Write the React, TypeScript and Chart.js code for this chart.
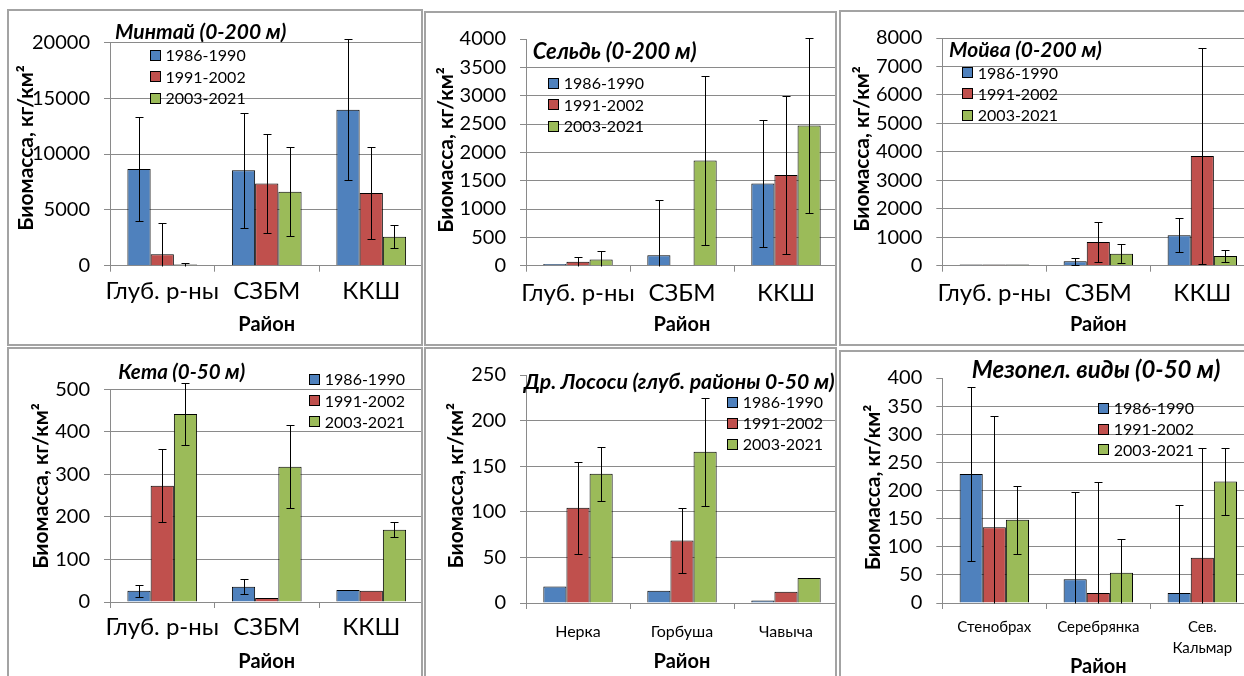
import React, { useEffect, useRef } from 'react';
import { Chart, registerables } from 'chart.js';

Chart.register(...registerables);

// ---------- DATA ----------
const periods = ['1986-1990', '1991-2002', '2003-2021'];
const areas = ['Глуб. р-ны', 'СЗБМ', 'ККШ'];
const salmonSpecies = ['Нерка', 'Горбуша', 'Чавыча'];
const mesoSpecies: (string | string[])[] = ['Стенобрах', 'Серебрянка', ['Сев.', 'Кальмар']];
const periodColors = ['#4F81BD', '#C0504D', '#9BBB59'];

// Минтай (0-200 м): rows = periods, columns = areas
const pollockMeans = [[8660, 8540, 13970], [1020, 7370, 6510], [100, 6630, 2600]];
const pollockErrors = [[4620, 5150, 6300], [2840, 4460, 4100], [140, 3970, 1060]];

// Сельдь (0-200 м)
const herringMeans = [[30, 186, 1449], [70, 10, 1600], [110, 1855, 2475]];
const herringErrors = [[0, 968, 1120], [92, 0, 1400], [157, 1490, 1540]];

// Мойва (0-200 м)
const capelinMeans = [[40, 160, 1074], [40, 834, 3851], [40, 423, 343]];
const capelinErrors = [[0, 120, 600], [0, 710, 3790], [0, 330, 205]];

// Кета (0-50 м)
const chumMeans = [[26.6, 36, 28], [273.5, 9.4, 26.6], [442, 318, 170]];
const chumErrors = [[14, 18, 0], [85, 0, 0], [73, 97, 18]];

// Др. лососи (глуб. районы 0-50 м)
const salmonMeans = [[18.1, 13.5, 2.8], [104.4, 68.5, 12.4], [141.7, 165.8, 27.3]];
const salmonErrors = [[0, 0, 0], [50.6, 36, 0], [29.6, 59, 0]];

// Мезопел. виды (0-50 м)
const mesoMeans = [[229.5, 42.2, 17.9], [134.7, 17.9, 80.3], [148, 53.8, 216.2]];
const mesoErrors = [[155, 155.5, 155.5], [197, 198, 196], [60, 60, 60]];

const yAxisTitle = 'Биомасса, кг/км²';
const xAxisTitle = 'Район';

// ---------- STYLE / LAYOUT ----------
const FONT = 'Lato, "Open Sans", "DejaVu Sans", sans-serif';
const GRID = '#8a8a8a';

type Spec = {
  title: string;
  titleSize: number;
  labels: (string | string[])[];
  means: number[][];
  errors: number[][];
  max: number;
  step: number;
  hideTopGrid: boolean;
  panel: { left: number; top: number; width: number; height: number };
  canvasBottom: number;
  plot: { axisX: number; top: number; bottom: number; right: number };
  xLabelSize: number;
  xLabelLineHeight: number;
  xLabelCenter: number;
  xTitleCenter: number;
  yTitle: { x: number; y: number };
  titlePos: { x: number; y: number };
  legend: { x: number; y: number; dy: number };
};

const specs: Spec[] = [
  {
    title: 'Минтай (0-200 м)', titleSize: 21, labels: areas, means: pollockMeans, errors: pollockErrors,
    max: 20000, step: 5000, hideTopGrid: false,
    panel: { left: 7, top: 9, width: 416, height: 337 }, canvasBottom: 344,
    plot: { axisX: 110, top: 42.3, bottom: 265.7, right: 423.5 },
    xLabelSize: 24, xLabelLineHeight: 1.2, xLabelCenter: 291.7, xTitleCenter: 325,
    yTitle: { x: 26.7, y: 148 }, titlePos: { x: 115, y: 32.3 }, legend: { x: 150, y: 55, dy: 21.6 },
  },
  {
    title: 'Сельдь (0-200 м)', titleSize: 22, labels: areas, means: herringMeans, errors: herringErrors,
    max: 4000, step: 500, hideTopGrid: true,
    panel: { left: 424, top: 11, width: 413, height: 335 }, canvasBottom: 344,
    plot: { axisX: 526, top: 35.7, bottom: 265.7, right: 838 },
    xLabelSize: 24, xLabelLineHeight: 1.2, xLabelCenter: 293.3, xTitleCenter: 325,
    yTitle: { x: 446.7, y: 150 }, titlePos: { x: 532.7, y: 51.7 }, legend: { x: 548.3, y: 83.3, dy: 21.4 },
  },
  {
    title: 'Мойва (0-200 м)', titleSize: 21, labels: areas, means: capelinMeans, errors: capelinErrors,
    max: 8000, step: 1000, hideTopGrid: false,
    panel: { left: 839, top: 10, width: 420, height: 336 }, canvasBottom: 344,
    plot: { axisX: 942.3, top: 32.3, bottom: 265.7, right: 1254.3 },
    xLabelSize: 24, xLabelLineHeight: 1.2, xLabelCenter: 293.3, xTitleCenter: 325,
    yTitle: { x: 862.3, y: 149 }, titlePos: { x: 949, y: 50 }, legend: { x: 962.3, y: 72.7, dy: 21.2 },
  },
  {
    title: 'Кета (0-50 м)', titleSize: 20.5, labels: areas, means: chumMeans, errors: chumErrors,
    max: 500, step: 100, hideTopGrid: false,
    panel: { left: 7, top: 347, width: 416, height: 340 }, canvasBottom: 690,
    plot: { axisX: 110, top: 389.3, bottom: 602, right: 423.5 },
    xLabelSize: 24, xLabelLineHeight: 1.2, xLabelCenter: 627.3, xTitleCenter: 661.7,
    yTitle: { x: 41.7, y: 486 }, titlePos: { x: 118.3, y: 372.3 }, legend: { x: 309.3, y: 379.3, dy: 21.2 },
  },
  {
    title: 'Др. Лососи (глуб. районы 0-50 м)', titleSize: 21.2, labels: salmonSpecies, means: salmonMeans, errors: salmonErrors,
    max: 250, step: 50, hideTopGrid: true,
    panel: { left: 424, top: 347, width: 413, height: 340 }, canvasBottom: 690,
    plot: { axisX: 526, top: 368.3, bottom: 603, right: 838 },
    xLabelSize: 16, xLabelLineHeight: 1.2, xLabelCenter: 631.7, xTitleCenter: 661.7,
    yTitle: { x: 456.7, y: 485.8 }, titlePos: { x: 524, y: 381.7 }, legend: { x: 727.3, y: 402.3, dy: 21 },
  },
  {
    title: 'Мезопел. виды (0-50 м)', titleSize: 24, labels: mesoSpecies, means: mesoMeans, errors: mesoErrors,
    max: 400, step: 50, hideTopGrid: true,
    panel: { left: 839, top: 350, width: 420, height: 340 }, canvasBottom: 690,
    plot: { axisX: 942.3, top: 372.3, bottom: 603, right: 1254.3 },
    xLabelSize: 15, xLabelLineHeight: 1.44, xLabelCenter: 626.7, xTitleCenter: 666.7,
    yTitle: { x: 873.3, y: 487.5 }, titlePos: { x: 971.7, y: 370 }, legend: { x: 1098.3, y: 408.3, dy: 20.8 },
  },
];

// ---------- PLUGIN ----------
const decoPlugin = {
  id: 'deco',
  afterDatasetsDraw(chart: any) {
    const ctx = chart.ctx;
    const y = chart.scales.y;
    ctx.save();
    ctx.strokeStyle = '#000';
    ctx.lineWidth = 1;
    chart.data.datasets.forEach((ds: any, di: number) => {
      const meta = chart.getDatasetMeta(di);
      meta.data.forEach((bar: any, i: number) => {
        const e = ds.errors[i];
        if (!e) return;
        const v = ds.data[i];
        const hi = Math.round(y.getPixelForValue(v + e)) + 0.5;
        const lowVal = v - e;
        const lo = Math.round(y.getPixelForValue(Math.max(lowVal, 0))) + 0.5;
        const x = Math.round(bar.x) + 0.5;
        ctx.beginPath();
        ctx.moveTo(x, hi);
        ctx.lineTo(x, lo);
        ctx.moveTo(x - 4, hi);
        ctx.lineTo(x + 4, hi);
        if (lowVal >= 0) {
          ctx.moveTo(x - 4, lo);
          ctx.lineTo(x + 4, lo);
        }
        ctx.stroke();
      });
    });
    ctx.restore();
  },
  afterDraw(chart: any, _args: any, opts: any) {
    const ctx = chart.ctx;
    ctx.save();
    // chart title
    ctx.fillStyle = '#000';
    ctx.textBaseline = 'middle';
    ctx.textAlign = 'left';
    ctx.font = `italic bold ${opts.titleSize}px ${FONT}`;
    ctx.fillText(opts.title, opts.titleX, opts.titleY);
    // legend
    ctx.font = `16px ${FONT}`;
    chart.data.datasets.forEach((ds: any, i: number) => {
      const cy = opts.legendY + i * opts.legendDy;
      const sx = Math.round(opts.legendX) + 0.5;
      const sy = Math.round(cy - 5.5) + 0.5;
      ctx.fillStyle = ds.backgroundColor;
      ctx.fillRect(sx, sy, 10, 10);
      ctx.strokeStyle = '#000';
      ctx.lineWidth = 1;
      ctx.strokeRect(sx, sy, 10, 10);
      ctx.fillStyle = '#000';
      ctx.fillText(ds.label, opts.legendX + 15.5, cy + 1);
    });
    // y axis title
    ctx.translate(opts.yTitleX, opts.yTitleY);
    ctx.rotate(-Math.PI / 2);
    ctx.textAlign = 'center';
    ctx.font = `bold 21px ${FONT}`;
    ctx.fillText(opts.yTitle, 0, 0);
    ctx.restore();
  },
};

function buildConfig(spec: Spec) {
  const ox = spec.panel.left + 2;
  const oy = spec.panel.top + 2;
  const cw = Math.ceil(spec.plot.right + 2 - ox);
  const ch = spec.canvasBottom - oy;
  const tickLen = 6;
  const xLh = spec.xLabelSize * spec.xLabelLineHeight;
  const xPad = spec.xLabelCenter - spec.plot.bottom - tickLen - xLh / 2;
  const xTitleSize = 20;
  const xTitlePad = spec.canvasBottom - spec.xTitleCenter - (xTitleSize * 1.2) / 2;
  return {
    cw,
    ch,
    config: {
      type: 'bar',
      data: {
        labels: spec.labels,
        datasets: periods.map((p, i) => ({
          label: p,
          data: spec.means[i],
          errors: spec.errors[i],
          backgroundColor: periodColors[i],
          borderColor: '#000',
          borderWidth: 1,
          barPercentage: 1,
          categoryPercentage: 0.667,
        })),
      },
      options: {
        responsive: false,
        animation: false,
        devicePixelRatio: 1,
        layout: {
          padding: { left: 0, bottom: 0, top: spec.plot.top - oy, right: cw - (spec.plot.right - ox) },
        },
        plugins: {
          legend: { display: false },
          tooltip: { enabled: false },
          title: { display: false },
          deco: {
            title: spec.title,
            titleSize: spec.titleSize,
            titleX: spec.titlePos.x - ox,
            titleY: spec.titlePos.y - oy,
            legendX: spec.legend.x - ox,
            legendY: spec.legend.y - oy,
            legendDy: spec.legend.dy,
            yTitle: yAxisTitle,
            yTitleX: spec.yTitle.x - ox,
            yTitleY: spec.yTitle.y - oy,
          },
        },
        scales: {
          x: {
            type: 'category',
            offset: true,
            grid: { offset: true, drawOnChartArea: false, drawTicks: true, tickLength: tickLen, color: GRID, lineWidth: 1 },
            border: { color: GRID, width: 1 },
            ticks: {
              font: { family: FONT, size: spec.xLabelSize, lineHeight: spec.xLabelLineHeight },
              color: '#000',
              padding: xPad,
              maxRotation: 0,
              minRotation: 0,
              autoSkip: false,
            },
            title: {
              display: true,
              text: xAxisTitle,
              color: '#000',
              font: { family: FONT, size: xTitleSize, weight: 'bold', lineHeight: 1.2 },
              padding: { top: 0, bottom: xTitlePad },
            },
            afterFit: (s: any) => {
              s.height = ch - (spec.plot.bottom - oy);
            },
          },
          y: {
            min: 0,
            max: spec.max,
            ticks: {
              stepSize: spec.step,
              font: { family: FONT, size: 20 },
              color: '#000',
              padding: 14,
              callback: (v: any) => String(v),
            },
            grid: {
              color: (c: any) =>
                spec.hideTopGrid && c.tick && c.tick.value === spec.max ? 'rgba(0,0,0,0)' : GRID,
              tickColor: GRID,
              tickLength: tickLen,
              lineWidth: 1,
            },
            border: { color: GRID, width: 1 },
            afterFit: (s: any) => {
              s.width = spec.plot.axisX - ox;
            },
          },
        },
      },
      plugins: [decoPlugin],
    },
  };
}

function Panel({ spec }: { spec: Spec }) {
  const ref = useRef<HTMLCanvasElement>(null);
  const built = buildConfig(spec);
  useEffect(() => {
    if (!ref.current) return;
    const chart = new Chart(ref.current, built.config as any);
    return () => chart.destroy();
  }, []);
  return (
    <div
      style={{
        position: 'absolute',
        left: spec.panel.left,
        top: spec.panel.top,
        width: spec.panel.width,
        height: spec.panel.height,
        boxSizing: 'border-box',
        border: '2px solid #a3a3a3',
        overflow: 'hidden',
        background: '#fff',
      }}
    >
      <canvas
        ref={ref}
        width={built.cw}
        height={built.ch}
        style={{ position: 'absolute', left: 0, top: 0, width: built.cw, height: built.ch }}
      />
    </div>
  );
}

export default function App() {
  return (
    <div
      style={{
        position: 'fixed',
        left: 0,
        top: 0,
        width: 1244,
        height: 676,
        overflow: 'hidden',
        background: '#fff',
      }}
    >
      {specs.map((s, i) => (
        <Panel key={i} spec={s} />
      ))}
    </div>
  );
}
